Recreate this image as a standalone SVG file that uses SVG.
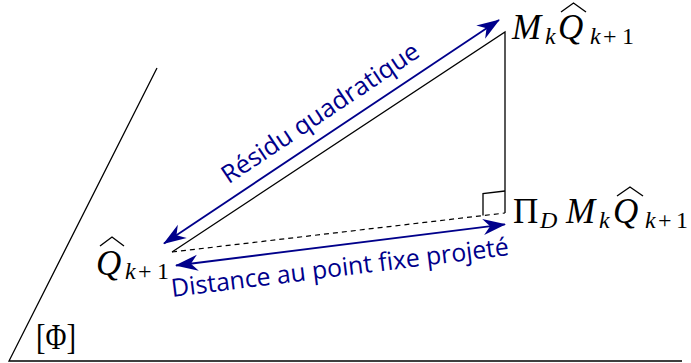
<svg xmlns="http://www.w3.org/2000/svg" width="691" height="363" viewBox="0 0 691 363">
<defs>
<style>
.ln{fill:none;stroke:#000;stroke-width:1.3}
.ds{fill:none;stroke:#000;stroke-width:1.2;stroke-dasharray:5,4}
.ar{fill:none;stroke:#00008b;stroke-width:1.8}
.hat{fill:none;stroke:#000;stroke-width:1.4;stroke-linejoin:miter}
.mi{font-family:"Liberation Serif","DejaVu Serif",serif;font-style:italic;font-size:35px;fill:#000}
.mr{font-family:"Liberation Serif","DejaVu Serif",serif;font-size:35px;fill:#000}
.si{font-family:"Liberation Serif","DejaVu Serif",serif;font-style:italic;font-size:24px;fill:#000}
.sr{font-family:"Liberation Serif","DejaVu Serif",serif;font-size:24px;fill:#000}
.lb{font-family:"Open Sans","Liberation Sans",sans-serif;font-size:25px;fill:#00008b}
</style>
<marker id="ah" viewBox="-24 -9 26 18" refX="0" refY="0" markerWidth="26" markerHeight="18" markerUnits="userSpaceOnUse" orient="auto-start-reverse">
<path d="M1,0 L-22,-8 L-15,0 L-22,8 Z" fill="#00008b"/>
</marker>
</defs>
<g id="connectors">
<polyline class="ln" points="157,68 9,361 682,361"/>
<polyline class="ln" points="172,252 505,32 505,213"/>
<line class="ds" x1="172" y1="252" x2="505" y2="213"/>
<polyline class="ln" points="483,215.5 483,193.5 505,191"/>
<line class="ar" x1="164" y1="243.5" x2="499" y2="20" marker-start="url(#ah)" marker-end="url(#ah)"/>
<line class="ar" x1="176" y1="265.5" x2="505" y2="224.3" marker-start="url(#ah)" marker-end="url(#ah)"/>
<text class="lb" transform="translate(325,120) rotate(-33.77)" text-anchor="middle" textLength="232" lengthAdjust="spacingAndGlyphs">Résidu quadratique</text>
<text class="lb" transform="translate(341,276) rotate(-7.1)" text-anchor="middle" textLength="340" lengthAdjust="spacingAndGlyphs">Distance au point fixe projeté</text>
</g>
<g id="node-MQ">
<text class="mi" x="512" y="39">M</text>
<text class="si" x="545" y="44">k</text>
<text class="mi" x="558" y="39">Q</text>
<polyline class="hat" points="561,12 573.5,3 586,12"/>
<text class="si" x="590" y="44">k</text>
<text class="sr" x="603" y="44">+</text>
<text class="sr" x="622" y="44">1</text>
</g>
<g id="node-PiMQ">
<text class="mr" x="513" y="223">Π</text>
<text class="si" x="540" y="228">D</text>
<text class="mi" x="566" y="223">M</text>
<text class="si" x="599" y="228">k</text>
<text class="mi" x="613" y="223">Q</text>
<polyline class="hat" points="617,196 630,187 643,196"/>
<text class="si" x="645" y="228">k</text>
<text class="sr" x="658" y="228">+</text>
<text class="sr" x="676" y="228">1</text>
</g>
<g id="node-Q">
<text class="mi" x="96" y="275">Q</text>
<polyline class="hat" points="100,246 112,237 124,246"/>
<text class="si" x="125" y="279">k</text>
<text class="sr" x="138" y="279">+</text>
<text class="sr" x="157" y="279">1</text>
</g>
<g id="node-Phi">
<text class="mr" x="36" y="349" textLength="40" lengthAdjust="spacingAndGlyphs">[Φ]</text>
</g>
</svg>
